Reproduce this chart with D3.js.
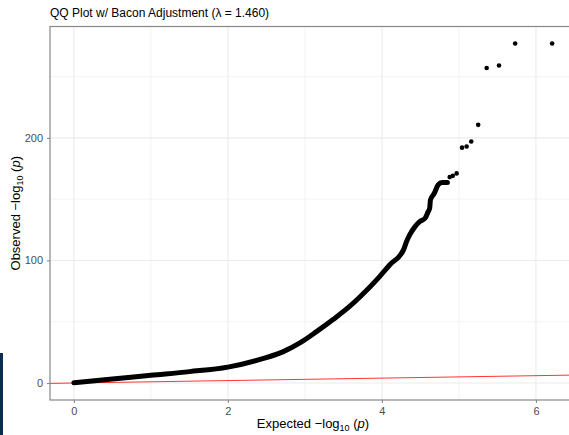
<!DOCTYPE html>
<html>
<head>
<meta charset="utf-8">
<script src="https://cdn.jsdelivr.net/npm/d3@7"></script>
<style>
	body { margin: 0; background: #fff; }
	text { font-family: "Liberation Sans", Arial, sans-serif; }
</style>
</head>
<body>
<div id="chart"></div>
<script>
// dense part of the qq curve (expected, observed)
var denseExpected = [0, 0.5, 1, 1.5, 2, 2.42, 2.72, 2.94, 3.15, 3.37, 3.58, 3.71, 3.97, 4.10, 4.28, 4.32, 4.36, 4.43, 4.49, 4.56, 4.60, 4.62, 4.63, 4.68, 4.73, 4.78, 4.85];
var denseObserved = [0.3, 3.2, 6.3, 9.3, 13, 19.3, 25.6, 32.9, 41.9, 52, 62.5, 70, 86.8, 96.3, 108.6, 115.4, 120.8, 127.6, 131.7, 134.4, 139.8, 142.6, 149.4, 154.8, 161.6, 163.5, 163.5];

// sparse tail points
var tailExpected = [4.88, 4.92, 4.97, 5.04, 5.10, 5.16, 5.25, 5.36, 5.52, 5.73, 6.21];
var tailObserved = [168, 169, 171, 192, 193, 197, 210.6, 257, 259, 277, 277];

var xMajor = [0, 2, 4, 6];
var xMinor = [1, 3, 5];
var yMajor = [0, 100, 200];
var yMinor = [50, 150, 250];

var titleText = "QQ Plot w/ Bacon Adjustment (\u03bb = 1.460)";

(function () {
	var W = 569, H = 435;
	var pL = 50, pR = 576, pT = 26.5, pB = 400;

	var svg = d3.select("#chart").append("svg")
		.attr("width", W)
		.attr("height", H);

	var x = d3.scaleLinear().domain([-0.31, 6.52]).range([pL, pR]);
	var y = d3.scaleLinear().domain([-13.85, 290.85]).range([pB, pT]);

	// grid
	var grid = svg.append("g");
	function vlines (vals, w) {
		grid.selectAll(null).data(vals).enter().append("line")
			.attr("x1", function (d) { return x(d); })
			.attr("x2", function (d) { return x(d); })
			.attr("y1", pT).attr("y2", pB)
			.attr("stroke", "#ebebeb").attr("stroke-width", w);
	}
	function hlines (vals, w) {
		grid.selectAll(null).data(vals).enter().append("line")
			.attr("y1", function (d) { return y(d); })
			.attr("y2", function (d) { return y(d); })
			.attr("x1", pL).attr("x2", pR)
			.attr("stroke", "#ebebeb").attr("stroke-width", w);
	}
	vlines(xMinor, 0.6);
	hlines(yMinor, 0.6);
	vlines(xMajor, 1.1);
	hlines(yMajor, 1.1);

	// y = x reference line
	var dom = x.domain();
	svg.append("line")
		.attr("x1", x(dom[0])).attr("y1", y(dom[0]))
		.attr("x2", x(dom[1])).attr("y2", y(dom[1]))
		.attr("stroke", "#ff0000").attr("stroke-width", 0.8);

	// dense points drawn as a thick run
	var dense = denseExpected.map(function (d, i) { return [d, denseObserved[i]]; });
	svg.append("path")
		.datum(dense)
		.attr("d", d3.line()
			.x(function (d) { return x(d[0]); })
			.y(function (d) { return y(d[1]); })
			.curve(d3.curveMonotoneX))
		.attr("fill", "none")
		.attr("stroke", "#000")
		.attr("stroke-width", 5)
		.attr("stroke-linecap", "round")
		.attr("stroke-linejoin", "round");

	svg.selectAll(".pt").data(tailExpected).enter().append("circle")
		.attr("class", "pt")
		.attr("cx", function (d) { return x(d); })
		.attr("cy", function (d, i) { return y(tailObserved[i]); })
		.attr("r", 2.3)
		.attr("fill", "#000");

	// panel border
	svg.append("rect")
		.attr("x", pL).attr("y", pT)
		.attr("width", pR - pL).attr("height", pB - pT)
		.attr("fill", "none")
		.attr("stroke", "#888").attr("stroke-width", 1.2);

	// axes
	var xAxis = svg.append("g")
		.attr("transform", "translate(0," + pB + ")")
		.call(d3.axisBottom(x).tickValues(xMajor).tickSize(3).tickPadding(4).tickFormat(d3.format("d")));
	var yAxis = svg.append("g")
		.attr("transform", "translate(" + pL + ",0)")
		.call(d3.axisLeft(y).tickValues(yMajor).tickSize(3).tickPadding(4).tickFormat(d3.format("d")));
	[xAxis, yAxis].forEach(function (a) {
		a.select(".domain").remove();
		a.selectAll(".tick line").attr("stroke", "#888").attr("stroke-width", 1.1);
		a.selectAll(".tick text")
			.attr("fill", "#4d4d4d")
			.style("font-size", "11px")
			.style("font-family", "'Liberation Sans', Arial, sans-serif");
	});

	// title
	svg.append("text")
		.attr("x", pL).attr("y", 17)
		.style("font-size", "12px")
		.attr("fill", "#000")
		.text(titleText);

	function axisLabel (g, word) {
		g.append("tspan").text(word + " \u2212log");
		g.append("tspan").attr("dy", 3).style("font-size", "9px").text("10");
		g.append("tspan").attr("dy", -3).text(" (");
		g.append("tspan").style("font-style", "italic").text("p");
		g.append("tspan").text(")");
	}

	var xt = svg.append("text")
		.attr("x", (pL + pR) / 2).attr("y", 428)
		.attr("text-anchor", "middle")
		.style("font-size", "13px")
		.attr("fill", "#000");
	axisLabel(xt, "Expected");

	var yt = svg.append("text")
		.attr("transform", "translate(20," + ((pT + pB) / 2) + ") rotate(-90)")
		.attr("text-anchor", "middle")
		.style("font-size", "13px")
		.attr("fill", "#000");
	axisLabel(yt, "Observed");

	// dark strip at bottom-left edge
	svg.append("rect")
		.attr("x", 0).attr("y", 353)
		.attr("width", 3).attr("height", H - 353)
		.attr("fill", "#0d2b50");
})();
</script>
</body>
</html>
